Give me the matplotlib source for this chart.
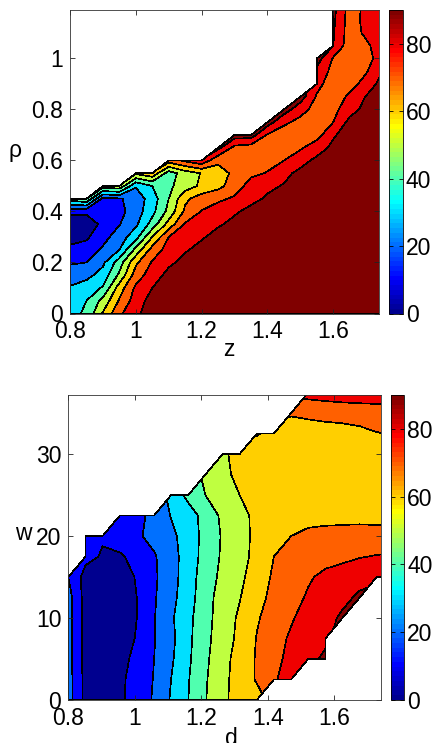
import numpy as np
import matplotlib
matplotlib.use("Agg")
import matplotlib.pyplot as plt
from matplotlib.colors import ListedColormap, Normalize
from matplotlib.cm import ScalarMappable

plt.rcParams['font.family'] = ['Liberation Sans', 'DejaVu Sans']
N = np.nan

# ---------------- data: top panel (angle vs z, rho) ----------------
z_values = [0.80, 0.85, 0.90, 0.95, 1.00, 1.05, 1.10, 1.15, 1.20, 1.25,
            1.30, 1.35, 1.40, 1.45, 1.50, 1.55, 1.60, 1.65, 1.70, 1.75]
rho_values = [0.00, 0.05, 0.10, 0.15, 0.20, 0.25, 0.30, 0.35, 0.40, 0.45,
              0.50, 0.55, 0.60, 0.65, 0.70, 0.75, 0.80, 0.85, 0.90, 0.95,
              1.00, 1.05, 1.10, 1.15, 1.20]
angle_top = [
    [36, 42, 61, 78, 88, 95, 97, 98, 98, 98, 98, 98, 98, 98, 98, 98, 98, 98, 98, 98],
    [34, 40, 53, 71, 85, 94, 97, 98, 98, 98, 98, 98, 98, 98, 98, 98, 98, 98, 98, 98],
    [31, 35, 41, 65, 82, 90, 96, 98, 98, 98, 98, 98, 98, 98, 98, 98, 98, 98, 98, 98],
    [25, 27, 34, 52, 75, 85, 93, 97, 98, 98, 98, 98, 98, 98, 98, 98, 98, 98, 98, 98],
    [19, 20, 28, 45, 68, 81, 88, 93, 97, 98, 98, 98, 98, 98, 98, 98, 98, 98, 98, 98],
    [12.5, 14, 21.5, 30, 53, 74, 84, 89, 93, 97, 98, 98, 98, 98, 98, 98, 98, 98, 98, 98],
    [6, 8.5, 16.5, 25, 36, 60, 80, 85, 89, 93, 97, 98, 98, 98, 98, 98, 98, 98, 98, 98],
    [3, 4, 12.5, 19.5, 28, 44, 64, 81, 85.5, 89, 92, 96, 98, 98, 98, 98, 98, 98, 98, 98],
    [13, 12, 11, 17, 25, 37, 53, 72, 80.5, 85, 89, 92, 96, 98, 98, 98, 98, 98, 98, 98],
    [45, 50, 17, 19, 24, 35, 50, 68, 75, 78, 81.5, 88, 91, 94, 97, 98, 98, 98, 98, 98],
    [N, N, 55, 58, 31, 40, 48, 55, 62, 67, 75, 84, 88.5, 90.5, 94, 97, 98, 98, 98, 98],
    [N, N, N, N, 62, 68, 45, 55, 60.5, 66, 72, 78, 80.5, 88, 92, 96, 98, 98, 98, 98],
    [N, N, N, N, N, N, 75, 82, 88, 72, 74, 75, 77, 80, 87, 92, 95, 98, 98, 98],
    [N, N, N, N, N, N, N, N, N, 93, 77, 75, 75, 76, 78.5, 86, 92, 96, 98, 98],
    [N, N, N, N, N, N, N, N, N, N, 95, 95, 79, 75, 74, 76, 89, 94, 97, 98],
    [N, N, N, N, N, N, N, N, N, N, N, N, 95, 82, 77, 74, 80, 93, 97, 98],
    [N, N, N, N, N, N, N, N, N, N, N, N, N, 95, 84, 76, 77, 86, 93, 96],
    [N, N, N, N, N, N, N, N, N, N, N, N, N, N, 95, 79, 74, 82, 90.5, 94],
    [N, N, N, N, N, N, N, N, N, N, N, N, N, N, N, 83, 75, 76, 84, 94],
    [N, N, N, N, N, N, N, N, N, N, N, N, N, N, N, 87, 77, 73, 79, 90],
    [N, N, N, N, N, N, N, N, N, N, N, N, N, N, N, 95, 79, 74, 77, 84],
    [N, N, N, N, N, N, N, N, N, N, N, N, N, N, N, N, 90, 74, 78, 86],
    [N, N, N, N, N, N, N, N, N, N, N, N, N, N, N, N, 91, 75, 82, 87],
    [N, N, N, N, N, N, N, N, N, N, N, N, N, N, N, N, 92, 75, 83, 88],
    [N, N, N, N, N, N, N, N, N, N, N, N, N, N, N, N, 93, 76, 82, 87],
]

# ---------------- data: bottom panel (angle vs d, w) ----------------
d_values = [0.800, 0.852, 0.903, 0.955, 1.006, 1.058, 1.109, 1.161, 1.212, 1.264,
            1.315, 1.367, 1.418, 1.470, 1.521, 1.573, 1.624, 1.676, 1.727, 1.779]
w_values = [0, 2.5, 5, 7.5, 10, 12.5, 15, 17.5, 20, 22.5, 25, 27.5, 30, 32.5, 35, 37.5]
angle_bottom = [
    [24, 7, 5, 8, 15, 21, 31, 40, 49.5, 58, 64, 66, N, N, N, N, N, N, N, N],
    [24, 7, 5, 8, 14, 20.5, 30, 39.5, 49, 57.5, 64, 71, 79, 84, N, N, N, N, N, N],
    [24, 6, 4, 7, 12.5, 20, 28.5, 38.5, 48, 57, 63.5, 71, 77, 83, 87, 92, N, N, N, N],
    [24, 6, 4, 6.5, 10.5, 19.5, 27.5, 38, 47, 56, 62, 70.5, 76, 81.5, 85, 88, N, N, N, N],
    [24, 6, 4, 6, 10, 19.5, 28.5, 37.5, 46.5, 55, 61.5, 69, 74.5, 79, 84, 86, 92, N, N, N],
    [24, 6, 4, 6, 10, 19, 27, 36, 46, 54.5, 59.5, 67, 72.5, 77, 81, 85, 87, 92, N, N],
    [20, 6, 4.5, 7, 10.5, 18.5, 26, 35.5, 45, 52.5, 58, 64.5, 71.5, 75, 79, 82, 84, 86, 88, 88],
    [N, 13, 9, 9, 12.5, 19, 26, 35, 43.5, 51.5, 57, 62.5, 70, 73, 75, 77, 78, 79.5, 80.5, 81],
    [N, 14, 11, 14, 18.5, 23, 27.5, 35, 43, 51, 57, 62, 66, 70, 72, 73, 73.5, 74, 74, 74],
    [N, N, N, 18, 19, 21, 30.5, 35, 44, 52, 57.5, 62, 64.5, 66, 67, 67, 67, 67, 66.5, 66],
    [N, N, N, N, N, N, 33, 43, 50, 55, 60, 62.5, 64, 65, 65, 65, 65, 65, 65, 65],
    [N, N, N, N, N, N, N, N, 52, 58, 62, 63.5, 64, 64, 64, 64, 64, 64, 64.5, 65],
    [N, N, N, N, N, N, N, N, N, 59, 62, 63, 63.5, 64, 64, 64, 64, 64.5, 66, 67],
    [N, N, N, N, N, N, N, N, N, N, N, 71, 66, 65, 65.5, 66, 66.5, 67.5, 69.5, 71],
    [N, N, N, N, N, N, N, N, N, N, N, N, N, 71, 72, 73, 73.5, 74.5, 76, 77],
    [N, N, N, N, N, N, N, N, N, N, N, N, N, N, 84, 85, 86, 86, 85, 85],
]

levels = [0, 10, 20, 30, 40, 50, 60, 70, 80, 90]
cmax = 90.0
xticks = [0.8, 1.0, 1.2, 1.4, 1.6]
xticklabels = ['0.8', '1', '1.2', '1.4', '1.6']
top_yticks = [0, 0.2, 0.4, 0.6, 0.8, 1.0]
top_yticklabels = ['0', '0.2', '0.4', '0.6', '0.8', '1']
bot_yticks = [0, 10, 20, 30]
bot_yticklabels = ['0', '10', '20', '30']
cbar_ticks = [0, 20, 40, 60, 80]


def matlab_jet(m=64):
    n = int(np.ceil(m / 4))
    u = np.concatenate([np.arange(1, n + 1) / n, np.ones(n - 1), np.arange(n, 0, -1) / n])
    g = int(np.ceil(n / 2)) - (1 if m % 4 == 1 else 0) + np.arange(1, len(u) + 1)
    r = g + n
    b = g - n
    J = np.zeros((m, 3))
    J[r[r <= m] - 1, 0] = u[r <= m]
    J[g[g <= m] - 1, 1] = u[g <= m]
    J[b[b >= 1] - 1, 2] = u[b >= 1]
    return J


jet64 = matlab_jet(64)
cmap = ListedColormap(jet64)
band_colors = [jet64[min(int(np.floor(L / cmax * 64)), 63)] for L in levels]
fill_levels = levels + [1000]

FS = 16.5
W, H = 435.0, 743.0


def px_axes(l, t, r, b):
    return [l / W, 1 - b / H, (r - l) / W, (b - t) / H]


fig = plt.figure(figsize=(W / 100, H / 100), dpi=100)
ax1 = fig.add_axes(px_axes(70, 10, 379.3, 313.5))
cax1 = fig.add_axes(px_axes(389, 10, 403, 313.5))
ax2 = fig.add_axes(px_axes(68.3, 395, 381, 700))
cax2 = fig.add_axes(px_axes(391, 395, 404.5, 700))


def draw(ax, cax, xs, ys, Z, ylim, yticks, yticklabels):
    X, Y = np.meshgrid(xs, ys)
    Zm = np.ma.masked_invalid(np.array(Z, dtype=float))
    cs = ax.contourf(X, Y, Zm, levels=fill_levels, colors=band_colors, corner_mask=True)
    cs.set_edgecolor('black')
    cs.set_linewidth(0.45)
    ax.set_xlim(0.8, 1.74)
    ax.set_ylim(*ylim)
    ax.set_xticks(xticks)
    ax.set_xticklabels(xticklabels)
    ax.set_yticks(yticks)
    ax.set_yticklabels(yticklabels)
    ax.tick_params(direction='in', length=3.5, width=0.6, top=True, right=True,
                   labelsize=FS, pad=5, colors='#222222', labelcolor='black')
    for s in ax.spines.values():
        s.set_linewidth(0.6)
        s.set_color('#333333')
    sm = ScalarMappable(norm=Normalize(0, cmax), cmap=cmap)
    cb = fig.colorbar(sm, cax=cax, ticks=cbar_ticks)
    cb.outline.set_linewidth(0.6)
    cax.tick_params(direction='in', length=3, width=0.6, labelsize=FS, pad=2,
                    left=True, right=True)


draw(ax1, cax1, z_values, rho_values, angle_top, (0, 1.19), top_yticks, top_yticklabels)
draw(ax2, cax2, d_values, w_values, angle_bottom, (0, 37.2), bot_yticks, bot_yticklabels)


def ftext(x, y, s):
    fig.text(x / W, 1 - y / H, s, ha='center', va='baseline', fontsize=FS)


ftext(229, 356, 'z')
ftext(15, 157, 'ρ')
ftext(23, 540, 'w')
ftext(231, 745, 'd')

fig.savefig('out.png', dpi=100)
